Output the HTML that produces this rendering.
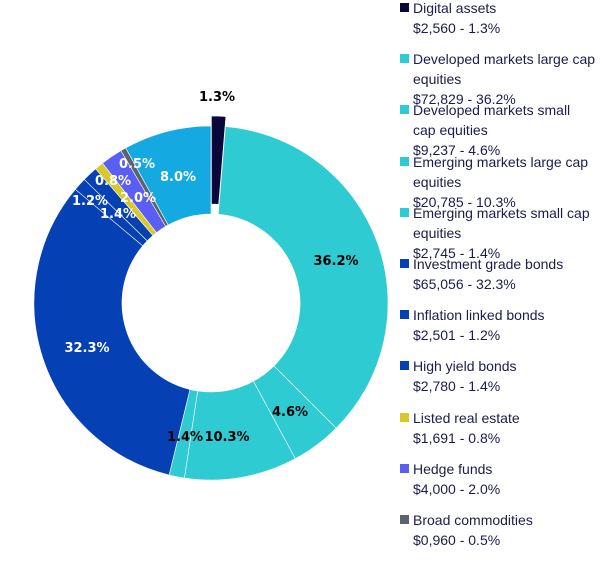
<!DOCTYPE html>
<html><head><meta charset="utf-8"><style>
html,body{margin:0;padding:0;background:#fff;width:602px;height:565px;overflow:hidden;font-family:"Liberation Sans",sans-serif}
.lg{position:absolute;left:400px;font-size:14px;color:#1c1c4c;line-height:20px;white-space:nowrap}
.lg i{position:absolute;left:0;top:5px;width:9px;height:9px}
.lg span{display:block;margin-left:13px}
</style></head><body>
<svg id="s" width="602" height="565" style="position:absolute;left:0;top:0"></svg>
<div id="L"></div>
<script>
var cx=211,cy=303,R=177,r=89;
var d=[[1.3,'#08083a'],[36.2,'#2ecbd2'],[4.6,'#2ecbd2'],[10.3,'#2ecbd2'],[1.4,'#2ecbd2'],[32.3,'#0540b4'],[1.2,'#0540b4'],[1.4,'#0540b4'],[0.8,'#d8c82a'],[2.0,'#5b5ef2'],[0.5,'#5a6470'],[8.0,'#14a9e0']];
var s='',a=0;
function P(ang,rad,ox,oy){var t=ang/100*2*Math.PI;return [(cx+ox+rad*Math.sin(t)).toFixed(2),(cy+oy-rad*Math.cos(t)).toFixed(2)];}
d.forEach(function(v,i){var a0=a,a1=a+v[0];a=a1;var ox=0,oy=0;
if(i==0){var m=(a0+a1)/2/100*2*Math.PI;ox=10*Math.sin(m);oy=-10*Math.cos(m);}
var p1=P(a0,R,ox,oy),p2=P(a1,R,ox,oy),p3=P(a1,r,ox,oy),p4=P(a0,r,ox,oy);var lg=v[0]>50?1:0;
s+='<path d="M'+p1+' A'+R+' '+R+' 0 '+lg+' 1 '+p2+' L'+p3+' A'+r+' '+r+' 0 '+lg+' 0 '+p4+'Z" fill="'+v[1]+'" stroke="#fff" stroke-width="0.6"/>';});
var lab=[[217,101,'1.3%','#000'],[336,265,'36.2%','#000'],[290,416,'4.6%','#000'],[227,441,'10.3%','#000'],[185,441,'1.4%','#000'],[87,352,'32.3%','#fff'],[90,205,'1.2%','#fff'],[118,218,'1.4%','#fff'],[113,185,'0.8%','#fff'],[138,202,'2.0%','#fff'],[137,168,'0.5%','#fff'],[178,181,'8.0%','#fff']];
lab.forEach(function(l){s+='<text x="'+l[0]+'" y="'+l[1]+'" fill="'+l[3]+'" font-family="DejaVu Sans,sans-serif" font-weight="bold" font-size="13" text-anchor="middle">'+l[2]+'</text>';});
document.getElementById('s').innerHTML=s;
var it=[['#08083a','Digital assets','$2,560 - 1.3%'],['#2ecbd2','Developed markets large cap<br>equities','$72,829 - 36.2%'],['#2ecbd2','Developed markets small<br>cap equities','$9,237 - 4.6%'],['#2ecbd2','Emerging markets large cap<br>equities','$20,785 - 10.3%'],['#2ecbd2','Emerging markets small cap<br>equities','$2,745 - 1.4%'],['#0540b4','Investment grade bonds','$65,056 - 32.3%'],['#0540b4','Inflation linked bonds','$2,501 - 1.2%'],['#0540b4','High yield bonds','$2,780 - 1.4%'],['#d8c82a','Listed real estate','$1,691 - 0.8%'],['#5b5ef2','Hedge funds','$4,000 - 2.0%'],['#5a6470','Broad commodities','$0,960 - 0.5%']];
var h='';it.forEach(function(v,i){h+='<div class="lg" style="top:'+(-2+i*51.2).toFixed(1)+'px"><i style="background:'+v[0]+'"></i><span>'+v[1]+'</span><span>'+v[2]+'</span></div>';});
document.getElementById('L').innerHTML=h;
</script>
</body></html>
